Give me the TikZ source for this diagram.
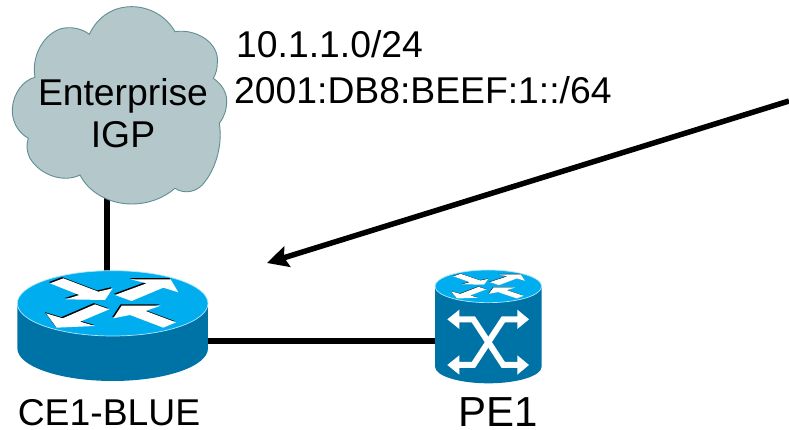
\documentclass[tikz,border=0pt]{standalone}
\usepackage{fontspec}
\setmainfont{Liberation Sans}
\usetikzlibrary{arrows.meta}
\definecolor{topblue}{HTML}{00AEEF}
\definecolor{sideblue}{HTML}{0073A6}
\definecolor{cloudfill}{HTML}{B4C7CA}
\definecolor{cloudedge}{HTML}{5F8F92}
\tikzset{
 lbl/.style={font=\fontsize{37.3}{42}\selectfont,inner sep=0pt,text=black},
 conn/.style={line width=6pt,black},
 zoomA/.style={shift={(0,260)},x=0.3333pt,y=-0.3333pt},
 zoomB/.style={shift={(410,260)},x=0.3333pt,y=-0.3333pt},
 zoomC/.style={x=0.3333pt,y=-0.3333pt},
}
\newcommand{\fourarrows}[1]{%
 \foreach \dx/\dy/\col in {-#1/-#1/black,0/0/white}{
  \fill[\col,shift={(\dx*1pt,-\dy*1pt)}] (150,70)--(190,55)--(295,95)--(338,85)--(315,120)--(197,118)--(238,105)--cycle;
  \fill[\col,shift={(\dx*1pt,-\dy*1pt)}] (345,105)--(440,70)--(392,58)--(512,58)--(535,97)--(490,83)--(395,123)--cycle;
  \fill[\col,shift={(\dx*1pt,-\dy*1pt)}] (328,148)--(285,133)--(188,175)--(138,160)--(170,203)--(285,198)--(240,185)--cycle;
  \fill[\col,shift={(\dx*1pt,-\dy*1pt)}] (340,175)--(365,137)--(482,137)--(437,153)--(528,187)--(490,203)--(390,165)--cycle;
 }}
\begin{document}
\begin{tikzpicture}[x=1pt,y=-1pt]
\useasboundingbox (0,0) rectangle (789,430);
\coordinate (cloudbase) at (107,195);
\coordinate (routertop) at (107,280);
\coordinate (routerright) at (200,341);
\coordinate (peleft) at (440,341);
\coordinate (farend) at (789,101);
\coordinate (tip) at (267,263);
\draw[conn] (cloudbase) -- (routertop);
\draw[conn] (routerright) -- (peleft);
% cloud
\begin{scope}[zoomC]
\draw[fill=cloudfill,draw=cloudedge,line width=0.9pt]
 (268,103) .. controls (295,45) and (345,20) .. (395,20)
 .. controls (450,20) and (500,50) .. (525,95)
 .. controls (590,85) and (660,130) .. (652,190)
 .. controls (652,205) and (648,222) .. (640,235)
 .. controls (670,255) and (682,285) .. (680,305)
 .. controls (680,330) and (672,352) .. (658,370)
 .. controls (668,430) and (650,500) .. (615,545)
 .. controls (595,575) and (555,585) .. (525,565)
 .. controls (490,595) and (445,612) .. (395,612)
 .. controls (325,612) and (265,575) .. (240,525)
 .. controls (190,550) and (120,525) .. (90,475)
 .. controls (80,455) and (78,435) .. (85,415)
 .. controls (50,395) and (35,360) .. (37,325)
 .. controls (40,280) and (70,240) .. (105,232)
 .. controls (95,180) and (120,110) .. (180,87)
 .. controls (210,78) and (245,85) .. (268,103) -- cycle;
\end{scope}
\node[lbl,align=center] (cloudlabel) at (123,113) {Enterprise\\IGP};
% router
\begin{scope}[zoomA]
\fill[sideblue] (52,130) -- (52,265) arc[start angle=180,end angle=0,x radius=286,y radius=98] -- (624,130) -- cycle;
\draw[fill=topblue,draw=white!70!topblue,line width=0.7pt] (338,130) ellipse[x radius=286,y radius=98];
\fourarrows{1.2}
\end{scope}
% switch
\begin{scope}[zoomB]
\fill[sideblue] (75,80) -- (75,320) arc[start angle=180,end angle=0,x radius=160,y radius=50] -- (395,80) -- cycle;
\draw[fill=topblue,draw=white!70!topblue,line width=0.7pt] (235,79) ellipse[x radius=160,y radius=49];
\begin{scope}[shift={(235,79)},xscale=0.56,yscale=0.5,shift={(-338,-130)}]
\fourarrows{0.7}
\end{scope}
\draw[white,line width=6pt,line join=miter] (140,178) -- (190,178) -- (280,315) -- (330,315);
\draw[white,line width=6pt,line join=miter] (140,315) -- (190,315) -- (280,178) -- (330,178);
\foreach \yy in {178,315}{
 \fill[white] (112,\yy) -- (148,\yy-29) -- (148,\yy+29) -- cycle;
 \fill[white] (357,\yy) -- (322,\yy-29) -- (322,\yy+29) -- cycle;
}
\end{scope}
% long arrow
\draw[line width=5.5pt,black,-{Stealth[length=21pt,width=21pt,inset=3pt]}] (farend) -- (tip);
% labels
\node[lbl,anchor=base west] (prefixfour) at (236,58) {10.1.1.0/24};
\node[lbl,anchor=base west] (prefixsix) at (234,104) {2001:DB8:BEEF:1::/64};
\node[lbl,anchor=base] (celabel) at (109,425) {CE1-BLUE};
\node[lbl,anchor=base,font=\fontsize{42}{46}\selectfont] (pelabel) at (498,426) {PE1};
\end{tikzpicture}
\end{document}
